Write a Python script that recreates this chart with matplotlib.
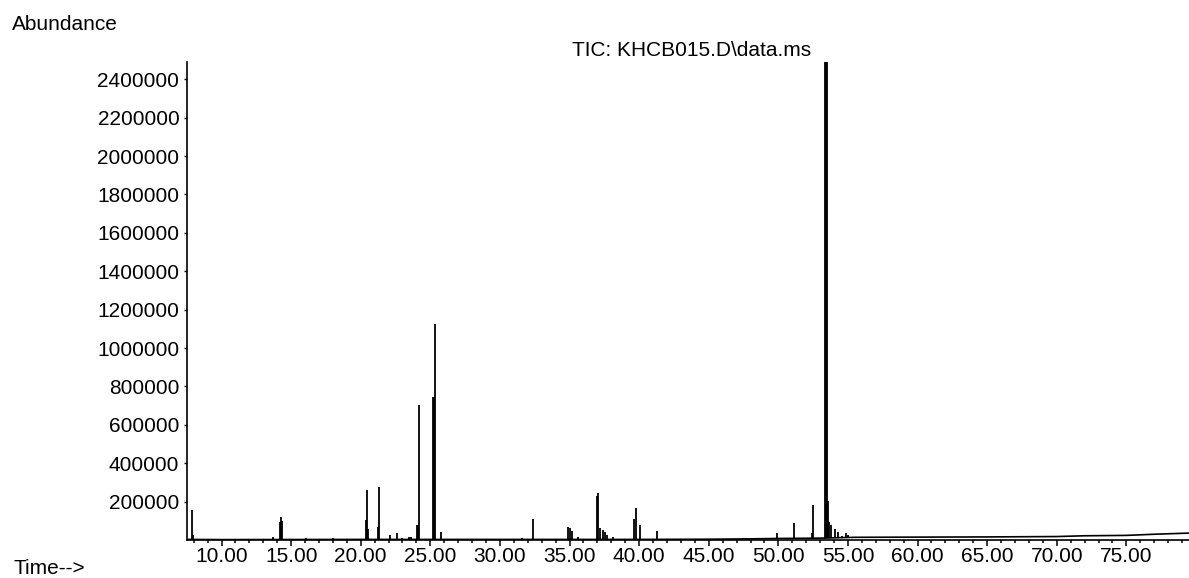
import numpy as np
import matplotlib.pyplot as plt
from matplotlib.ticker import MultipleLocator

plt.rcParams['font.family'] = ['Liberation Sans', 'DejaVu Sans']

title = 'TIC: KHCB015.D\\data.ms'

# retention time (min) and abundance at the top of each peak
peak_time = [7.90, 7.97, 13.70, 14.20, 14.27, 14.33, 16.10, 18.00,
             20.35, 20.44, 20.55, 21.22, 21.30, 22.10, 22.60, 23.00, 23.50, 23.60,
             24.05, 24.12, 24.18, 25.18, 25.26, 25.36, 25.80,
             31.60, 32.34, 34.87, 35.00, 35.15, 35.60,
             36.96, 37.05, 37.20, 37.40, 37.55, 37.70, 38.10,
             39.65, 39.75, 40.05, 41.26,
             48.15, 49.50, 49.93, 51.15, 52.40, 52.46,
             53.35, 53.42, 53.50, 53.57, 53.65, 53.80, 54.10, 54.30, 54.60, 54.85, 55.00]
peak_abund = [156000, 25000, 15000, 95000, 120000, 100000, 8000, 8000,
              104000, 258000, 55000, 68000, 276000, 26000, 36000, 12000, 15000, 15000,
              78000, 78000, 703000, 745000, 745000, 1125000, 40000,
              10000, 109000, 68000, 62000, 47000, 15000,
              229000, 245000, 62000, 50000, 42000, 26000, 16000,
              109000, 166000, 78000, 47000,
              10000, 10000, 37000, 89000, 37000, 182000,
              2500000, 2500000, 2500000, 203000, 94000, 78000, 57000, 42000, 21000, 37000, 25000]

# baseline drift of the trace
base_time = [7.5, 10, 20, 30, 40, 45, 48, 50, 52, 53.3, 55.5, 60, 65, 70, 72, 75, 77, 79.5]
base_abund = [3000, 2000, 3000, 3000, 3000, 4000, 6000, 8000, 9000, 10000,
              14000, 15000, 16000, 18000, 22000, 24000, 30000, 36000]

y_ticks = [200000, 400000, 600000, 800000, 1000000, 1200000, 1400000,
           1600000, 1800000, 2000000, 2200000, 2400000]
x_ticks = [10, 15, 20, 25, 30, 35, 40, 45, 50, 55, 60, 65, 70, 75]
x_labels = ['%.2f' % t for t in x_ticks]

W, H = 1189, 578
fig = plt.figure(figsize=(W / 100, H / 100), dpi=100)
ax = fig.add_axes([187 / W, 38 / H, (W - 187) / W, (540 - 62) / H])

ax.plot(base_time, base_abund, color='black', lw=1.2)
ax.vlines(peak_time, np.interp(peak_time, base_time, base_abund), peak_abund,
          color='black', lw=1.3)

ax.set_xlim(7.52, 79.5)
ax.set_ylim(0, 2490000)

ax.spines['top'].set_visible(False)
ax.spines['right'].set_visible(False)
ax.spines['left'].set_linewidth(1.2)
ax.spines['bottom'].set_linewidth(1.2)

ax.set_yticks(y_ticks)
ax.set_yticklabels([str(v) for v in y_ticks])
ax.set_xticks(x_ticks)
ax.set_xticklabels(x_labels)
ax.xaxis.set_minor_locator(MultipleLocator(1))
ax.tick_params(axis='y', direction='out', length=2.5, width=1, pad=3, labelsize=15)
ax.tick_params(axis='x', which='major', direction='out', length=4.5, width=1.1, pad=0.5, labelsize=15)
ax.tick_params(axis='x', which='minor', direction='out', length=2.5, width=1.1)

fig.text(12 / W, 1 - 24 / H, 'Abundance', ha='left', va='center', fontsize=15)
fig.text(13 / W, 1 - 568 / H, 'Time-->', ha='left', va='center', fontsize=15)
fig.text(692 / W, 1 - 50 / H, title, ha='center', va='center', fontsize=15)

fig.savefig('out.png', dpi=100)
